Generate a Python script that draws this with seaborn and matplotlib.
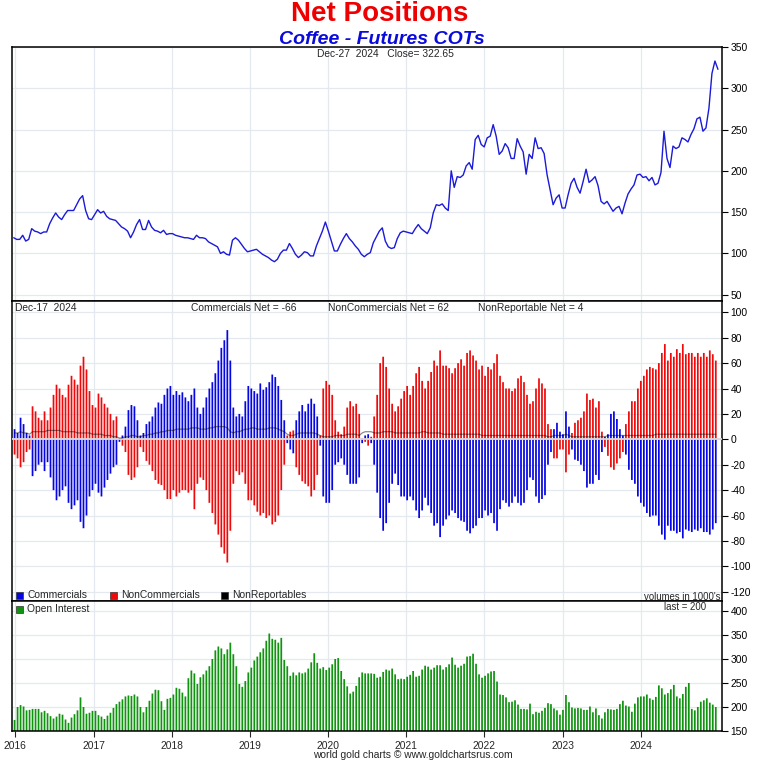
import matplotlib

matplotlib.use("Agg")
import matplotlib.pyplot as plt
from matplotlib import font_manager
from matplotlib.patches import Rectangle
import pandas as pd
import seaborn as sns

W, H = 758, 765

# coffee close, one reading every 14 days
price_2016_2018 = [
    119, 117, 117, 122, 115, 117, 130, 127, 126, 124,
    126, 126, 136, 143, 149, 144, 141, 147, 152, 152,
    152, 159, 166, 170, 152, 142, 141, 147, 153, 149,
    151, 145, 142, 141, 140, 136, 132, 130, 127, 119,
    126, 135, 141, 129, 129, 140, 132, 128, 127, 125,
    128, 123, 124, 124, 122, 121, 120, 119, 119, 118,
    117, 122, 119, 119, 118, 114, 112, 110, 108, 100,
    102, 99, 98, 116, 119, 116, 111, 106, 102,
]
price_2019_2024 = [
    103, 104, 105, 102, 99, 97, 95, 92, 90, 93,
    100, 104, 104, 112, 106, 99, 95, 98, 102, 101,
    97, 97, 109, 118, 127, 138, 127, 115, 103, 103,
    111, 118, 124, 118, 114, 109, 105, 99, 96, 99,
    101, 113, 120, 127, 131, 115, 108, 106, 107, 118,
    125, 127, 126, 125, 124, 130, 135, 130, 127, 124,
    131, 149, 159, 158, 160, 155, 152, 200, 180, 193,
    192, 195, 206, 210, 202, 238, 243, 232, 229, 240,
    242, 256, 242, 220, 224, 233, 228, 215, 215, 239,
    230, 223, 196, 220, 215, 240, 227, 228, 221, 195,
    177, 159, 167, 171, 155, 155, 171, 185, 191, 180,
    173, 187, 202, 186, 189, 193, 182, 163, 160, 163,
    157, 151, 155, 157, 148, 161, 172, 178, 183, 195,
    196, 192, 193, 188, 192, 183, 185, 198, 248, 215,
    204, 230, 227, 229, 240, 238, 235, 244, 251, 263,
    265, 248, 252, 276, 318, 333, 323,
]

# net positions (1000's of contracts), one bar every 14 days up to Dec-17 2024
commercials = [
    8, 5, 17, 12, 5, 3, -29, -25, -20, -18,
    -25, -18, -30, -40, -48, -45, -40, -37, -50, -55,
    -52, -48, -65, -70, -60, -45, -40, -35, -42, -45,
    -38, -32, -27, -22, -20, -2, 3, 10, 23, 27,
    26, 15, 3, 5, 12, 14, 18, 25, 29, 28,
    35, 40, 42, 35, 38, 35, 37, 33, 30, 35,
    40, 25, 20, 25, 33, 40, 45, 52, 62, 72,
    78, 86, 62, 25, 18, 20, 18, 30, 42,
    40, 38, 36, 44, 39, 41, 45, 51, 49, 42,
    31, 15, -3, -8, -11, 15, 22, 27, 22, 28,
    32, 28, 18, -5, -45, -50, -50, -40, -20, -18,
    -15, -20, -28, -35, -35, -35, -30, -3, 3, 4,
    -3, -20, -42, -62, -72, -66, -50, -35, -27, -36,
    -45, -45, -48, -45, -48, -56, -62, -56, -46, -52,
    -58, -68, -66, -77, -68, -63, -60, -56, -58, -62,
    -64, -65, -72, -74, -70, -68, -62, -62, -56, -60,
    -58, -66, -72,
    -55, -48, -50, -53, -50, -45, -50, -52, -50, -40,
    -30, -32, -45, -50, -47, -44, -20, -10, 8, 13,
    6, 4, 22, 10, -8, -16, -17, -20, -25, -38,
    -35, -35, -28, -32, -10, 2, 4, 20, 22, 16,
    8, 3, -12, -24, -32, -35, -45, -50, -53, -58,
    -61, -60, -60, -68, -75, -79, -68, -72, -72, -74,
    -73, -78, -71, -72, -73, -71, -72, -70, -73, -73,
    -75, -71, -66,
]
noncommercials = [
    -12, -15, -22, -18, -10, -8, 26, 22, 17, 15,
    22, 15, 25, 35, 43, 40, 35, 33, 43, 50,
    47, 43, 58, 65, 55, 38, 27, 25, 36, 33,
    28, 25, 20, 15, 18, 1, -5, -10, -28, -32,
    -30, -22, -6, -10, -17, -20, -25, -32, -35, -36,
    -40, -47, -47, -40, -45, -42, -40, -40, -42, -40,
    -55, -35, -30, -32, -40, -50, -58, -67, -75, -85,
    -90, -97, -72, -35, -25, -28, -26, -35, -48,
    -48, -52, -57, -60, -58, -62, -60, -67, -65, -60,
    -40, -20, 3, 6, 7, -22, -28, -33, -35, -37,
    -45, -40, -28, 3, 40, 46, 43, 35, 15, 6,
    4, 10, 25, 30, 26, 28, 20, 1, -2, -5,
    2, 18, 35, 60, 65, 57, 40, 28, 22, 26,
    32, 38, 42, 35, 42, 52, 57, 46, 40, 46,
    53, 62, 58, 70, 58, 58, 56, 52, 56, 60,
    63, 58, 68, 70, 66, 62, 55, 58, 50, 57,
    55, 60, 67,
    50, 45, 40, 40, 38, 40, 48, 50, 45, 35,
    28, 30, 40, 48, 44, 40, 12, 8, -15, -15,
    -8, -8, -26, -12, 5, 13, 15, 17, 22, 36,
    31, 32, 25, 30, 6, -6, -13, -22, -24, -19,
    -15, -10, 12, 22, 30, 30, 40, 46, 50, 55,
    57, 56, 55, 60, 68, 75, 62, 68, 65, 71,
    68, 75, 67, 68, 68, 65, 68, 65, 68, 65,
    70, 67, 62,
]
nonreportables = [
    5, 5, 6, 5, 5, 4,
    6, 6, 6, 6, 6, 7, 7, 7, 7, 7, 6, 6, 6, 6, 6, 5, 5, 5, 5, 5, 4, 4, 4, 4, 3, 3, 3, 2, 2,
    1, 1, 2, 2, 3, 3, 2, 2, 3, 3, 4, 4, 5,
    5, 6, 6, 7, 7, 7, 8, 8, 8, 8, 8, 9, 9, 9, 8, 8, 8, 9, 9, 10, 10, 10, 10, 9, 6, 5, 6, 6, 7, 8, 8,
    9, 9, 8, 8, 8, 8, 9, 9, 9, 8, 7, 6,
    4, 3, 3, 4, 5, 5, 5, 5, 5, 5, 4, 3, 2, 2, 2, 2, 3, 3, 3, 3, 4, 4, 4, 4, 3, 5, 6, 6, 6, 5,
    5, 5, 6, 6, 6, 6, 5, 5, 5, 5, 5, 5, 5, 5, 5, 6, 6, 5, 5, 5,
    5, 5, 4, 4, 4, 4, 4, 4, 4, 4, 4, 4, 4, 4, 4, 3, 3, 3, 3, 3,
    3, 3, 3, 3, 3, 3, 3, 3, 3, 3, 3, 3, 3, 3, 3, 3, 3,
    2, 2, 3, 3, 3, 3, 4, 3, 2, 2, 2, 2, 2, 2, 2, 2, 2, 2, 2, 2,
    3, 3, 3, 3, 3, 3, 3, 3, 3, 3, 3, 3, 3, 3, 3, 3, 4, 4, 4, 4,
    4, 4, 4, 4, 4, 4, 4, 4, 4, 4, 4, 4, 4, 4, 4, 4, 4,
]
open_interest = [
    173, 200, 204, 201, 193, 194, 196, 196, 196, 189,
    192, 187, 181, 176, 180, 186, 184, 174, 167, 178,
    185, 193, 220, 200, 186, 188, 192, 192, 183, 180,
    175, 182, 188, 198, 206, 211, 216, 222, 224, 223,
    226, 222, 200, 189, 200, 213, 228, 236, 235, 212,
    194, 217, 219, 226, 240, 238, 230, 222, 260, 276,
    270, 248, 262, 268, 276, 285, 300, 318, 326, 322,
    310, 320, 334, 310, 285, 248, 242, 254, 272, 282,
    297, 305, 314, 322, 338, 353, 342, 340, 334, 344,
    298, 285, 265, 272, 266, 272, 270, 272, 280, 293,
    312, 292, 280, 283, 277, 282, 289, 300, 302, 275,
    258, 243, 228, 232, 244, 262, 272, 270, 270, 270,
    269, 261, 263, 273, 278, 276, 280, 268, 258, 259,
    258, 263, 267, 275, 263, 265, 278, 286, 284, 278,
    282, 287, 287, 278, 283, 289, 303, 288, 282, 286,
    290, 305, 306, 311, 290, 268, 261, 265, 270, 274,
    275, 253, 226, 225, 220, 210, 211, 214, 205, 196,
    196, 195, 207, 185, 190, 188, 192, 198, 208, 206,
    197, 193, 184, 194, 225, 210, 199, 197, 198, 197,
    194, 194, 201, 189, 197, 183, 176, 189, 196, 195,
    194, 196, 206, 213, 203, 201, 190, 207, 220, 222,
    222, 226, 218, 215, 221, 245, 239, 226, 229, 237,
    246, 222, 218, 227, 242, 250, 196, 193, 200, 211,
    214, 218, 209, 205, 200,
]

years = list(range(2016, 2025))
price_ticks = [50, 100, 150, 200, 250, 300, 350]
net_ticks = list(range(-120, 101, 20))
oi_ticks = [150, 200, 250, 300, 350, 400]

price = price_2016_2018 + price_2019_2024
price_dates = pd.date_range(end="2024-12-27", periods=len(price), freq="14D")
cot_dates = pd.date_range(end="2024-12-17", periods=len(commercials), freq="14D")

BLUE = "#0606e2"
RED = "#ee0a0a"
GREEN = "#109410"
GRID = "#e3e9ef"
BAR_LW = 1.25

sns.set_style("white")
names = {f.name for f in font_manager.fontManager.ttflist}
if "Liberation Sans Narrow" in names:
    SMALL_FONT, k = "Liberation Sans Narrow", 1.0
else:
    SMALL_FONT, k = "Liberation Sans", 0.82
plt.rcParams["font.family"] = [SMALL_FONT, "DejaVu Sans"]
plt.rcParams["axes.unicode_minus"] = False

fig = plt.figure(figsize=(W / 100, H / 100), dpi=100)
fig.patch.set_facecolor("white")


def px_axes(top, bottom):
    return fig.add_axes([12 / W, 1 - bottom / H, 710 / W, (bottom - top) / H])


ax_price = px_axes(47, 301)
ax_net = px_axes(301, 601)
ax_oi = px_axes(601, 731)

x_lo, x_hi = pd.Timestamp("2015-12-17"), pd.Timestamp("2025-01-15")
year_ticks = pd.to_datetime([f"{y}-01-01" for y in years])

for ax, ticks, lims in [
    (ax_price, price_ticks, (42.4, 350)),
    (ax_net, net_ticks, (-127.3, 108.9)),
    (ax_oi, oi_ticks, (150, 420.8)),
]:
    ax.set_xlim(x_lo, x_hi)
    ax.set_ylim(*lims)
    ax.set_yticks(ticks)
    ax.set_xticks(year_ticks)
    ax.yaxis.tick_right()
    ax.grid(True, color=GRID, linewidth=0.9)
    ax.set_axisbelow(True)
    ax.tick_params(axis="y", right=True, left=False, length=4, width=0.8,
                   pad=2, labelsize=9 * k, colors="black")
    ax.tick_params(axis="x", bottom=False, labelbottom=False)
    for spine in ax.spines.values():
        spine.set_color("black")
        spine.set_linewidth(1.1)

# price panel
sns.lineplot(x=price_dates, y=price, ax=ax_price, color="#1a1ad8", linewidth=1.0)

# net positions panel
for values, color in [(commercials, BLUE), (noncommercials, RED)]:
    bars = ax_net.vlines(cot_dates, 0, values, color=color, linewidth=BAR_LW, zorder=2)
    bars.set_snap(False)
ax_net.axhline(0, color="#dadada", linewidth=1.3, zorder=3)
sns.lineplot(x=cot_dates, y=nonreportables, ax=ax_net, color="black",
             alpha=0.45, linewidth=0.9, zorder=4)

# open interest panel
oi_bars = ax_oi.vlines(cot_dates, 0, open_interest, color=GREEN, linewidth=BAR_LW, zorder=2)
oi_bars.set_snap(False)
ax_oi.tick_params(axis="x", bottom=True, labelbottom=True, length=4, width=0.8,
                  pad=3, labelsize=9 * k)
ax_oi.set_xticklabels([str(y) for y in years])

for ax in (ax_price, ax_net, ax_oi):
    ax.set_xlabel("")
    ax.set_ylabel("")


def px_text(x, y, s, size=9, ha="left", **kw):
    fig.text(x / W, 1 - y / H, s, ha=ha, va="center", fontsize=size, **kw)


def px_square(x, y, color):
    fig.patches.append(Rectangle((x / W, 1 - (y + 3.5) / H), 7 / W, 7 / H,
                                 transform=fig.transFigure, facecolor=color,
                                 edgecolor="#333333", linewidth=0.5))


px_text(380, 14, "Net Positions", size=20, ha="center", color="#ee0000",
        fontweight="bold", family=["Liberation Sans", "DejaVu Sans"])
px_text(382, 39, "Coffee - Futures COTs", size=14, ha="center", color="#0a0adc",
        fontweight="bold", fontstyle="italic", family=["Liberation Sans", "DejaVu Sans"])
px_text(385, 54, "Dec-27  2024   Close= 322.65", size=9 * k, ha="center")

px_text(15, 308, "Dec-17  2024", size=9 * k)
px_text(191, 308, "Commercials Net = -66", size=9 * k)
px_text(328, 308, "NonCommercials Net = 62", size=9 * k)
px_text(478, 308, "NonReportable Net = 4", size=9 * k)

px_square(16, 595, BLUE)
px_text(27, 595, "Commercials", size=9 * k)
px_square(110, 595, RED)
px_text(121, 595, "NonCommercials", size=9 * k)
px_square(221, 595, "black")
px_text(232, 595, "NonReportables", size=9 * k)
px_text(721, 597, "volumes in 1000's", size=8.5 * k, ha="right")

px_square(16, 609, GREEN)
px_text(27, 609, "Open Interest", size=9 * k)
px_text(706, 607, "last = 200", size=8.5 * k, ha="right")

px_text(413, 755, "world gold charts \u00a9 www.goldchartsrus.com", size=9 * k, ha="center")

fig.savefig("out.png", dpi=100)
